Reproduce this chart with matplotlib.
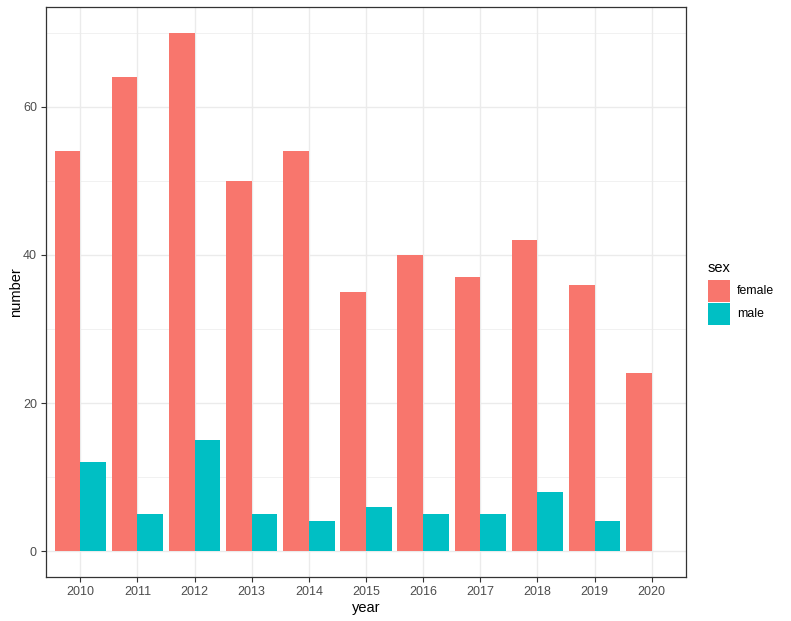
import numpy as np
import matplotlib.pyplot as plt
from matplotlib.patches import Rectangle

years = [2010, 2011, 2012, 2013, 2014, 2015, 2016, 2017, 2018, 2019, 2020]
female = [54, 64, 70, 50, 54, 35, 40, 37, 42, 36, 24]
male = [12, 5, 15, 5, 4, 6, 5, 5, 8, 4, 0]
sexes = ['female', 'male']
colors = ['#F8766D', '#00BFC4']

plt.rcParams['font.family'] = ['Liberation Sans', 'DejaVu Sans']

W, H = 791, 621
fig = plt.figure(figsize=(W/100, H/100), dpi=100)
ax = fig.add_axes([46/W, 44/H, 640/W, 570/H])

x = np.arange(len(years))
w = 0.45
ax.bar(x - w/2, female, width=w, color=colors[0], zorder=3)
ax.bar(x + w/2, male, width=w, color=colors[1], zorder=3)

ax.set_xlim(-0.6, len(years) - 1 + 0.6)
ax.set_ylim(-3.5, 73.5)
ax.set_xticks(x)
ax.set_xticklabels([str(y) for y in years])
ax.set_yticks([0, 20, 40, 60])
ax.set_yticks([10, 30, 50, 70], minor=True)

ax.grid(True, which='major', color='#EBEBEB', linewidth=1.0, zorder=0)
ax.grid(True, which='minor', axis='y', color='#EBEBEB', linewidth=0.5, zorder=0)
ax.set_axisbelow(True)
ax.tick_params(which='major', length=3.5, width=0.8, color='#333333',
               labelsize=9, labelcolor='#4D4D4D', pad=3)
ax.tick_params(which='minor', length=0)
for s in ax.spines.values():
    s.set_color('#333333')
    s.set_linewidth(0.9)

ax.set_xlabel('year', fontsize=10.5, color='black', labelpad=2)
ax.set_ylabel('number', fontsize=10.5, color='black', labelpad=0)

# legend drawn by hand, ggplot style
fig.text(708/W, 1 - 268/H, 'sex', fontsize=10.5, va='center', ha='left')
for i, (lab, c) in enumerate(zip(sexes, colors)):
    top = 280 + i * 23
    fig.add_artist(Rectangle((708/W, 1 - (top + 22)/H), 22/W, 22/H,
                             transform=fig.transFigure, facecolor=c,
                             edgecolor='none'))
    fig.text(737/W, 1 - (top + 11)/H, lab, fontsize=8.8, va='center', ha='left')

plt.savefig('out.png', dpi=100)
